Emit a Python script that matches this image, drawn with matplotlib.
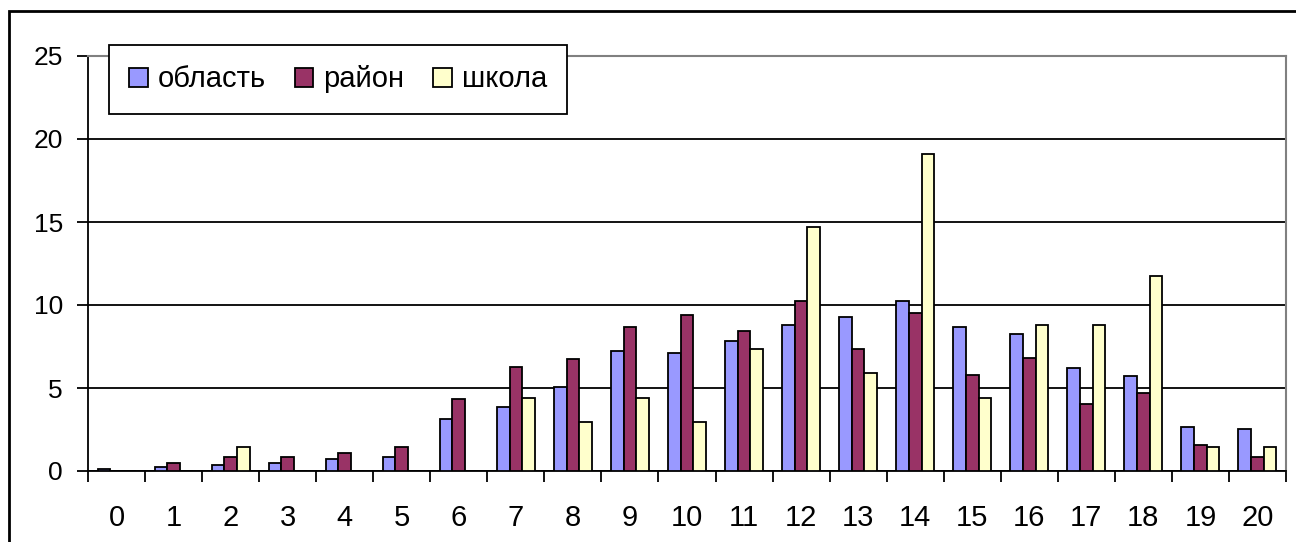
import numpy as np
import matplotlib.pyplot as plt
from matplotlib.patches import Rectangle

plt.rcParams['font.family'] = ['Liberation Sans', 'DejaVu Sans']

categories = [str(i) for i in range(21)]
oblast = [0.12, 0.22, 0.36, 0.46, 0.70, 0.82, 3.13, 3.83, 5.04, 7.21, 7.11,
          7.81, 8.78, 9.26, 10.22, 8.66, 8.28, 6.23, 5.75, 2.63, 2.51]
raion = [0, 0.46, 0.82, 0.82, 1.08, 1.43, 4.34, 6.25, 6.73, 8.66, 9.40,
         8.42, 10.22, 7.33, 9.50, 5.77, 6.83, 4.06, 4.67, 1.54, 0.83]
shkola = [0, 0, 1.47, 0, 0, 0, 0, 4.41, 2.94, 4.41, 2.94,
          7.35, 14.71, 5.88, 19.12, 4.41, 8.82, 8.82, 11.76, 1.47, 1.47]
series_names = ['область', 'район', 'школа']
colors = ['#9999FF', '#993366', '#FFFFCC']

fig = plt.figure(figsize=(12.96, 5.42), dpi=100)
ax = fig.add_axes([88 / 1296, 1 - 471 / 542, (1286 - 88) / 1296, (471 - 56) / 542])

# outer chart frame (only top and left visible in the original)
fig.patches.append(Rectangle((9 / 1296, -0.1), 1.2, 1 - 11 / 542 + 0.1,
                             transform=fig.transFigure, fill=False,
                             edgecolor='black', linewidth=2))

x = np.arange(len(categories))
w = 1 / 4.5
for i, (vals, name, c) in enumerate(zip([oblast, raion, shkola], series_names, colors)):
    ax.bar(x + (i - 1) * w, vals, width=w, color=c, edgecolor='black',
           linewidth=1.3, label=name, zorder=3)

ax.set_xlim(-0.5, len(categories) - 0.5)
ax.set_ylim(0, 25)
ax.set_yticks(np.arange(0, 26, 5))
ax.yaxis.grid(True, color='black', linewidth=1.3, zorder=0)
ax.set_axisbelow(True)

ax.set_xticks(x)
ax.set_xticklabels(categories, fontsize=21)
ax.tick_params(axis='x', length=0, pad=24)
ax.set_xticks(np.arange(-0.5, len(categories)), minor=True)
ax.tick_params(axis='x', which='minor', length=8, width=1.3, direction='out')
ax.tick_params(axis='y', labelsize=19, length=8, width=1.3, direction='out', pad=10)

for s in ['top', 'right']:
    ax.spines[s].set_color('#808080')
    ax.spines[s].set_linewidth(1.5)
for s in ['left', 'bottom']:
    ax.spines[s].set_linewidth(1.3)

leg = ax.legend(loc='upper left', bbox_to_anchor=(21 / 1198, 1 + 11 / 415), ncol=3,
                fontsize=21, frameon=True, fancybox=False, edgecolor='black',
                framealpha=1, handlelength=0.62, handleheight=0.62,
                handletextpad=0.35, columnspacing=1.0, borderpad=0.7,
                borderaxespad=0)
leg.get_frame().set_linewidth(1.3)
leg.set_zorder(5)

fig.savefig('out.png', dpi=100)
